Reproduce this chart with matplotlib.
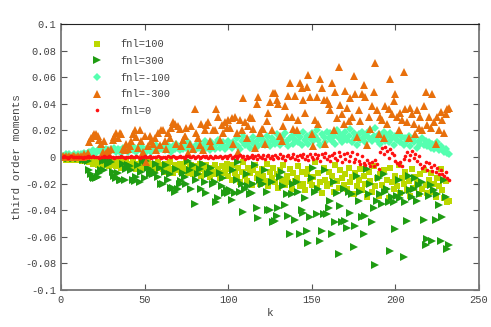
import numpy as np
import matplotlib
matplotlib.use("Agg")
import matplotlib.pyplot as plt

# third order moments (units of 1e-3), k = 1..232
fnl_p100 = [
    -1, -1, -2, -1, -2, -1, -2, -1, -2, -2,
    -2, -1, -3, -2, -3, -2, -4, -3, -5, -3,
    -4, -6, -3, -5, -4, -6, -3, -5, -7, -4,
    -6, -4, -7, -5, -3, -8, -5, -6, -4, -7,
    -5, -8, -3, -6, -9, -5, -7, -4, -8, -6,
    -7, -3, -9, -6, -5, -10, -7, -4, -8, -6,
    -9, -5, -11, -7, -4, -9, -12, -6, -8, -10,
    -5, -11, -7, -9, -4, -12, -8, -6, -13, -9,
    -7, -11, -5, -14, -9, -12, -6, -10, -15, -8,
    -11, -6, -13, -9, -16, -7, -12, -10, -5, -14,
    -9, -17, -6, -12, -15, -8, -19, -11, -4, -14,
    -18, -8, -12, -21, -10, -6, -16, -13, -20, -9,
    -14, -18, -5, -22, -11, -16, -8, -19, -13, -23,
    -10, -17, -6, -21, -14, -19, -9, -24, -12, -18,
    -16, -7, -22, -11, -20, -25, -13, -9, -18, -21,
    -15, -4, -23, -12, -19, -27, -8, -17, -22, -11,
    -20, -14, -26, -6, -18, -23, -10, -16, -21, -13,
    -24, -8, -19, -15, -28, -12, -22, -17, -9, -25,
    -14, -20, -30, -11, -18, -26, -7, -22, -16, -29,
    -13, -21, -10, -25, -17, -31, -8, -19, -24, -14,
    -22, -6, -27, -16, -20, -11, -25, -18, -29, -9,
    -23, -15, -19, -28, -13, -24, -10, -21, -27, -17,
    -12, -26, -20, -30, -16, -22, -9, -25, -31, -18,
    -34, -33,
]
fnl_p300 = [
    0, -1, 0, -1, -1, 0, -1, -1, 0, -1,
    -1, 0, -2, -1, -2, -3, -10, -13, -15, -16,
    -16, -15, -12, -10, -3, -10, -2, -5, -2, -4,
    -11, -14, -16, -12, -17, -17, -5, -17, -9, -6,
    -7, -10, -17, -18, -15, -6, -19, -11, -3, -16,
    -3, -8, -13, -10, -13, -12, -5, -15, -8, -20,
    -20, -11, -6, -17, -13, -23, -23, -26, -9, -24,
    -20, -18, -12, -15, -20, -3, -10, -24, -6, -35,
    -17, -13, -9, -24, -5, -19, -27, -13, -12, -8,
    -20, -19, -34, -31, -12, -22, -16, -27, -25, -27,
    -25, -32, -10, -27, -17, -4, -26, -20, -41, -24,
    -13, -22, -28, -27, -20, -6, -38, -46, -17, -20,
    -20, -10, -26, -40, -40, -19, -49, -48, -44, -38,
    -15, -11, -22, -36, -28, -44, -58, -28, -20, -47,
    -19, -26, -58, -40, -42, -31, -56, -65, -45, -16,
    -8, -26, -43, -24, -63, -56, -43, -10, -43, -38,
    -33, -58, -19, -49, -27, -73, -37, -49, -24, -48,
    -53, -26, -42, -28, -68, -52, -14, -33, -26, -45,
    -58, -44, -9, -28, -20, -49, -38, -81, -33, -16,
    -28, -35, -13, -26, -24, -34, -71, -30, -34, -54,
    -29, -17, -31, -27, -75, -34, -48, -14, -25, -30,
    -24, -16, -33, -21, -28, -19, -47, -66, -62, -29,
    -21, -63, -25, -47, -28, -36, -63, -45, -17, -30,
    -69, -66,
]
fnl_m100 = [
    1, 1, 2, 1, 2, 1, 1, 2, 1, 2,
    1, 2, 2, 3, 2, 3, 4, 3, 5, 4,
    3, 5, 6, 4, 5, 3, 6, 5, 4, 6,
    5, 7, 4, 6, 5, 3, 7, 5, 6, 4,
    6, 8, 5, 7, 4, 6, 8, 5, 7, 3,
    6, 7, 5, 4, 8, 6, 9, 5, 7, 6,
    8, 5, 6, 9, 7, 4, 8, 6, 10, 7,
    5, 8, 6, 9, 7, 11, 6, 8, 7, 5,
    9, 7, 10, 6, 8, 12, 7, 9, 5, 11,
    8, 6, 10, 13, 7, 9, 11, 6, 8, 12,
    9, 7, 11, 10, 14, 8, 6, 12, 16, 9,
    10, 13, 7, 11, 15, 9, 12, 8, 14, 10,
    13, 9, 16, 11, 8, 14, 12, 10, 17, 13,
    9, 15, 11, 18, 12, 8, 14, 16, 10, 13,
    17, 11, 15, 9, 19, 13, 16, 10, 14, 18,
    12, 16, 20, 13, 9, 17, 15, 11, 19, 14,
    18, 12, 16, 10, 20, 14, 17, 11, 15, 19,
    13, 16, 21, 11, 18, 14, 9, 17, 13, 19,
    15, 11, 18, 14, 20, 12, 16, 22, 13, 17,
    10, 15, 19, 12, 16, 11, 18, 14, 9, 16,
    13, 17, 11, 15, 9, 14, 12, 16, 8, 13,
    11, 15, 7, 12, 10, 14, 9, 12, 8, 11,
    7, 10, 6, 9, 11, 5, 8, 7, 4, 6,
    3, 2,
]
fnl_m300 = [
    1, 0, 1, 0, 1, 0, 1, 1, 0, 1,
    0, 1, 0, 2, 1, 3, 11, 14, 16, 17,
    17, 16, 13, 10, 4, 12, 3, 5, 2, 6,
    13, 15, 18, 14, 18, 17, 6, 5, 10, 6,
    8, 12, 17, 20, 15, 7, 20, 12, 4, 16,
    -4, 8, 16, 12, 10, 14, 5, 18, 9, 20,
    20, 12, 6, 18, 14, 22, 26, 25, 10, 23,
    21, 8, 13, 16, 22, 3, 10, 23, 6, 36,
    18, 14, 9, 25, 5, 20, 24, 26, 12, 8,
    20, 20, 36, 30, 13, 24, 18, 26, 22, 28,
    22, 29, 10, 30, 18, 4, 28, 20, 44, 26,
    14, 23, 30, 29, 21, 7, 40, 45, 18, 21,
    21, 10, 27, 33, 41, 20, 48, 48, 43, 40,
    16, 12, 23, 38, 30, 46, 56, 30, 21, 46,
    20, 28, 56, 52, 43, 33, 53, 62, 45, 17,
    8, 28, 45, 25, 59, 52, 43, 10, 43, 40,
    35, 56, 20, 49, 29, 68, 39, 32, 25, 50,
    37, 27, 44, 30, 61, 47, 15, 35, 27, 47,
    54, 45, 9, 30, 21, 38, 49, 71, 35, 17,
    30, 28, 14, 38, 25, 36, 59, 32, 42, 47,
    30, 20, 33, 28, 64, 36, 26, 14, 37, 32,
    25, 17, 35, 22, 30, 20, 38, 49, 24, 30,
    22, 47, 26, 10, 30, 20, 34, 28, 18, 32,
    36, 37,
]
fnl_0 = [
    0, 0.5, 0, -0.4, 0.2, 0.4, -0.2, 0, 0.3, -0.3,
    0.2, 0, -0.4, 0.3, 0, 0.5, -0.2, 0.1, 0.4, -0.3,
    0, 0.3, -0.5, 0.2, 0, 0.4, -0.3, 0.1, 0.5, -0.2,
    0.2, -0.4, 0, 0.3, -0.2, 0.5, 0, -0.5, 0.3, 0.1,
    -0.3, 0.4, 0, -0.2, 0.5, 0.1, -0.4, 0.2, 0, 0.6,
    -0.3, 0.2, 0.5, -0.5, 0, 0.3, -0.2, 0.6, 0.1, -0.4,
    0.3, 0, -0.6, 0.5, 0.2, -0.3, 0.7, 0, -0.4, 0.3,
    0.6, -0.2, 0.1, -0.6, 0.4, 0.8, -0.3, 0, 0.5, -0.5,
    0.2, 0.7, -0.4, 0.1, 0.9, -0.2, 0.4, -0.7, 0.6, 0,
    -0.5, 1.0, 0.3, -0.3, 0.6, -0.8, 0.2, 1.1, -0.4, 0.5,
    1.2, -0.6, 0.3, 0.9, -1.0, 0.4, 1.5, -0.3, 0.7, -1.2,
    1.0, -0.5, 0.2, 1.4, -0.9, 0.6, -1.3, 1.6, 0.1, -0.7,
    1.2, -1.5, 0.4, 1.8, -0.6, 0.9, -1.8, 1.4, 0.2, -1.1,
    2.0, -0.4, 1.1, -1.9, 0.7, 1.7, -1.0, 0.3, 2.2, -1.5,
    0.8, -2.1, 1.5, -0.2, 2.4, -1.3, 0.5, -2.5, 1.9, 0.2,
    -1.8, 2.6, -0.6, 1.2, -2.8, 2.0, -0.3, 3.0, -1.5, 0.7,
    -3.2, 1.6, 2.8, -0.9, -2.4, 3.4, 0.6, -3.6, 1.9, -1.2,
    2.9, -2.7, 0.4, 3.6, -4.0, -1.6, 2.2, -3.1, -5.2, 1.0,
    -4.3, -6.0, -2.5, -4.8, -6.5, -3.7, -7.0, -2.0, -5.5, -9.0,
    3.5, 6.8, 2.0, 7.5, 4.5, -1.0, 5.8, 3.0, 1.5, -2.8,
    -4.5, -6.2, -3.5, -7.0, -1.5, 0.5, 3.8, -2.2, 1.8, 4.2,
    -0.8, 2.5, -3.0, 0.8, -5.0, -8.0, -6.5, -3.8, -9.5, -4.5,
    -7.2, -10.5, -5.8, -11.0, -8.6, -12.5, -9.8, -13.0, -14.2, -11.5,
    -15.8, -17.0,
]

k = np.arange(1, len(fnl_0) + 1)
scale = 1e-3

plt.rcParams['font.family'] = ['Liberation Mono', 'DejaVu Sans Mono']
fig = plt.figure(figsize=(4.91, 3.27), dpi=100)
ax = fig.add_axes([0.1242, 0.1131, 0.8514, 0.8135])

ax.plot(k, np.array(fnl_p100) * scale, "s", color="#bcd800", ms=3.8, mew=0, label="fnl=100")
ax.plot(k, np.array(fnl_p300) * scale, ">", color="#1f9c12", ms=5.2, mew=0, label="fnl=300")
ax.plot(k, np.array(fnl_m100) * scale, "D", color="#55ffb0", ms=3.8, mew=0, label="fnl=-100")
ax.plot(k, np.array(fnl_m300) * scale, "^", color="#e8700c", ms=5.2, mew=0, label="fnl=-300")
ax.plot(k, np.array(fnl_0) * scale, "o", color="#ff1010", ms=2.6, mew=0, label="fnl=0")

ax.set_xlim(0, 250)
ax.set_ylim(-0.1, 0.1)
ax.set_xticks(np.arange(0, 251, 50))
yt = np.arange(-0.1, 0.1001, 0.02)
ax.set_yticks(yt)
ax.set_yticklabels(["%g" % round(v, 2) if abs(v) > 1e-9 else "0" for v in yt])
ax.tick_params(direction="in", top=True, right=True, length=4, width=0.8,
               colors="#555555", labelsize=7.5, labelcolor="#444444")
for s in ["left", "bottom", "right"]:
    ax.spines[s].set_color("#777777")
    ax.spines[s].set_linewidth(1.3)
ax.spines["top"].set_color("#222222")
ax.spines["top"].set_linewidth(0.8)

ax.set_xlabel("k", fontsize=8, color="#444444", labelpad=2)
ax.set_ylabel("third order moments", fontsize=8, color="#444444", labelpad=2)

ax.legend(loc="upper left", bbox_to_anchor=(0.038, 0.978), frameon=False, fontsize=7.5,
          labelspacing=0.64, handletextpad=1.25, handlelength=2.0, markerscale=1.0,
          labelcolor="#444444")

fig.savefig("out.png", dpi=100)
